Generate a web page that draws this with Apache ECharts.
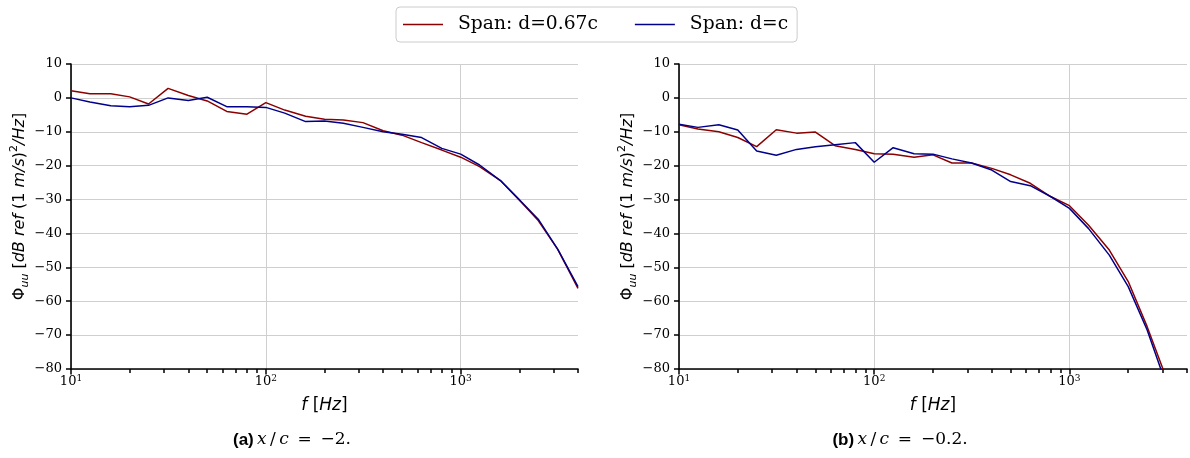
<!DOCTYPE html>
<html>
<head>
<meta charset="utf-8">
<script src="https://cdn.jsdelivr.net/npm/echarts@6/dist/echarts.min.js"></script>
<style>
  html, body { margin: 0; padding: 0; background: #fff; }
  #chart { width: 1190px; height: 458px; }
</style>
</head>
<body>
<div id="chart"></div>
<script>
// One-third octave band centre frequencies [Hz]
const freqs = [10, 12.5, 16, 20, 25, 31.5, 40, 50, 63, 80, 100, 125, 160, 200, 250,
  315, 400, 500, 630, 800, 1000, 1250, 1600, 2000, 2500, 3150, 4000];

// (a) x/c = -2 : spectra in dB ref (1 m/s)^2/Hz
const spanShortA = [2.1, 1.2, 1.2, 0.3, -1.8, 2.8, 0.7, -0.9, -4.0, -4.8, -1.4, -3.6, -5.4, -6.3, -6.5,
  -7.3, -9.7, -11.0, -13.2, -15.4, -17.5, -20.3, -24.4, -30.1, -36.2, -44.7, -56.2];
const spanFullA = [0.0, -1.2, -2.3, -2.6, -2.2, 0.0, -0.8, 0.2, -2.6, -2.6, -2.8, -4.5, -7.0, -6.8, -7.5,
  -8.7, -10.0, -10.7, -11.7, -14.9, -16.6, -19.8, -24.4, -30.1, -35.8, -44.7, -55.7];

// (b) x/c = -0.2 : spectra end at the 3150 Hz band
const spanShortB = [-7.9, -9.2, -10.0, -11.7, -14.4, -9.4, -10.4, -10.1, -14.1, -15.2, -16.5, -16.6, -17.5, -16.8, -19.2,
  -19.2, -20.8, -22.7, -25.2, -29.1, -31.8, -37.5, -44.9, -54.2, -67.5, -83.0];
const spanFullB = [-7.8, -8.7, -7.9, -9.5, -15.7, -16.9, -15.2, -14.4, -13.8, -13.2, -19.0, -14.7, -16.5, -16.6, -18.0,
  -19.2, -21.3, -24.7, -25.9, -29.1, -32.6, -38.5, -46.4, -55.7, -68.5, -85.0];

const seriesNames = ['Span: d=0.67c', 'Span: d=c'];
const seriesColors = ['#8b0000', '#00008b'];

// Axis ticks
const decadeTicks = [10, 100, 1000];
const allTicks = [10, 20, 30, 40, 50, 60, 70, 80, 90, 100, 200, 300, 400, 500, 600, 700, 800, 900, 1000, 2000, 3000, 4000];
const yMin = -80, yMax = 10, yStep = 10;
const xMin = 10, xMax = 4000;

const captions = [
  { tag: '(a)', value: '\u22122.' },
  { tag: '(b)', value: '\u22120.2.' }
];

const pairs = (vals) => vals.map((v, i) => [freqs[i], v]);

const grids = [
  { left: 71, top: 64, width: 507, height: 305 },
  { left: 679, top: 64, width: 508, height: 305 }
];

const tickFont = 'DejaVu Serif';
const gridColor = '#cfcfcf';

function mainXAxis(gi) {
  return {
    type: 'log', logBase: 10, gridIndex: gi, min: xMin, max: xMax, position: 'bottom',
    axisLine: { onZero: false, lineStyle: { color: '#000', width: 1.6 } },
    axisTick: { show: true, length: 4, inside: false, customValues: allTicks,
      lineStyle: { color: '#000', width: 1.5 } },
    axisLabel: {
      customValues: decadeTicks, margin: 5, color: '#000',
      formatter: (v) => '{b|10}{s|' + Math.round(Math.log10(v)) + '}',
      rich: {
        b: { fontFamily: tickFont, fontSize: 13, lineHeight: 16, color: '#000' },
        s: { fontFamily: tickFont, fontSize: 9, lineHeight: 9, verticalAlign: 'top', color: '#000' }
      }
    },
    splitLine: { show: false },
    name: '{i|f}{t| [}{i|Hz}{t|]}',
    nameLocation: 'middle', nameGap: 28,
    nameTextStyle: {
      rich: {
        i: { fontFamily: 'DejaVu Sans', fontStyle: 'italic', fontSize: 17, color: '#000' },
        t: { fontFamily: 'DejaVu Sans', fontSize: 17, color: '#000' }
      }
    }
  };
}

function gridXAxis(gi) {
  return {
    type: 'log', logBase: 10, gridIndex: gi, min: xMin, max: xMax, position: 'bottom',
    axisLine: { show: false, onZero: false },
    axisTick: { show: true, length: 5.5, customValues: decadeTicks, lineStyle: { color: '#000', width: 1.5 } },
    axisLabel: { show: false },
    splitLine: { show: true, lineStyle: { color: gridColor, width: 1 } }
  };
}

function yAxis(gi) {
  return {
    type: 'value', gridIndex: gi, min: yMin, max: yMax, interval: yStep,
    axisLine: { show: true, onZero: false, lineStyle: { color: '#000', width: 1.6 } },
    axisTick: { show: true, length: 5, lineStyle: { color: '#000', width: 1.5 } },
    axisLabel: {
      margin: 9, color: '#000', fontFamily: tickFont, fontSize: 13,
      formatter: (v) => (v < 0 ? '\u2212' + (-v) : String(v))
    },
    splitLine: { show: true, lineStyle: { color: gridColor, width: 1 } },
    name: '{t|\u03a6}{s|uu}{t| [}{i|dB ref}{t| (1 }{i|m/s}{t|)}{p|2}{i|/Hz}{t|]}',
    nameLocation: 'middle', nameRotate: 90, nameGap: 40,
    nameTextStyle: {
      padding: [0, 0, 0, 20],
      rich: {
        t: { fontFamily: 'DejaVu Sans', fontSize: 16, lineHeight: 22, color: '#000' },
        i: { fontFamily: 'DejaVu Sans', fontStyle: 'italic', fontSize: 16, lineHeight: 22, color: '#000' },
        s: { fontFamily: 'DejaVu Sans', fontStyle: 'italic', fontSize: 11, lineHeight: 12, verticalAlign: 'bottom', color: '#000' },
        p: { fontFamily: 'DejaVu Sans', fontSize: 11, lineHeight: 12, verticalAlign: 'top', color: '#000' }
      }
    }
  };
}

function lineSeries(name, color, data, axisIdx) {
  return {
    name: name, type: 'line', xAxisIndex: axisIdx, yAxisIndex: axisIdx / 2,
    data: data, showSymbol: false, symbol: 'none', clip: true,
    lineStyle: { color: color, width: 1.5 }, itemStyle: { color: color },
    animation: false
  };
}

function captionText(c, cx) {
  return {
    type: 'text', x: cx, y: 440,
    style: {
      text: '{b|' + c.tag + '} {i|x}{r|\u2009/\u2009}{i|c}{r|\u2009 = \u2009' + c.value + '}',
      align: 'center', verticalAlign: 'middle',
      rich: {
        b: { fontFamily: 'Liberation Sans', fontWeight: 'bold', fontSize: 17, fill: '#000' },
        i: { fontFamily: 'DejaVu Serif', fontStyle: 'italic', fontSize: 17, fill: '#000' },
        r: { fontFamily: 'DejaVu Serif', fontSize: 17, fill: '#000' }
      }
    }
  };
}

const chart = echarts.init(document.getElementById('chart'), null, { renderer: 'canvas' });
chart.setOption({
  animation: false,
  backgroundColor: '#fff',
  grid: grids,
  legend: {
    data: seriesNames, left: 396, top: 7, orient: 'horizontal',
    icon: 'rect', itemWidth: 40, itemHeight: 1.6, itemGap: 37,
    padding: [8, 9, 8, 7],
    borderColor: '#cccccc', borderWidth: 1, borderRadius: 4,
    textStyle: { fontFamily: 'DejaVu Serif', fontSize: 18.7, color: '#000', padding: [0, 0, 0, 10] },
    selectedMode: false
  },
  xAxis: [mainXAxis(0), gridXAxis(0), mainXAxis(1), gridXAxis(1)],
  yAxis: [yAxis(0), yAxis(1)],
  series: [
    lineSeries(seriesNames[0], seriesColors[0], pairs(spanShortA), 0),
    lineSeries(seriesNames[1], seriesColors[1], pairs(spanFullA), 0),
    lineSeries(seriesNames[0], seriesColors[0], pairs(spanShortB), 2),
    lineSeries(seriesNames[1], seriesColors[1], pairs(spanFullB), 2)
  ],
  graphic: [captionText(captions[0], 292), captionText(captions[1], 900)]
});
</script>
</body>
</html>
